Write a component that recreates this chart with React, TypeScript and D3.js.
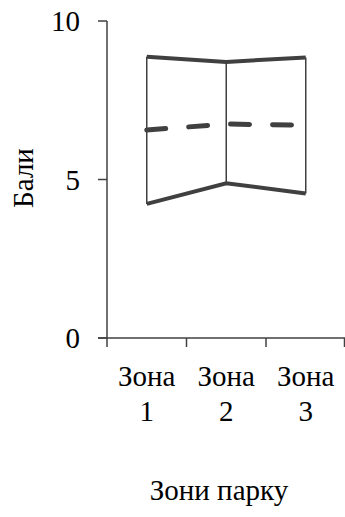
import React from "react";
import * as d3 from "d3";

const zones = ["1", "2", "3"];
const maxValues = [8.87, 8.71, 8.85];
const minValues = [4.23, 4.88, 4.56];
const meanValues = [6.56, 6.75, 6.71];
const yTicks = [0, 5, 10];

const width = 345;
const height = 517;
const color = "#404040";
const font =
  '"Liberation Serif", "Times New Roman", Times, Tinos, "Noto Serif", "DejaVu Serif", "Nimbus Roman", FreeSerif, serif';

const x = d3.scaleBand<string>().domain(zones).range([107, 345.5]).padding(0);
const y = d3.scaleLinear().domain([0, 10]).range([338, 21]);

const cx = (z: string) => (x(z) as number) + x.bandwidth() / 2;

const line = d3
  .line<number>()
  .x((_, i) => cx(zones[i]))
  .y((d) => y(d));

const txt = { fontFamily: font, fontSize: 29, fill: "#000" };

const App = () => {
  const [x0, x1] = x.range();
  return (
    <svg
      width={width}
      height={height}
      style={{ position: "absolute", left: 0, top: 0, fontFamily: font }}
    >
      {/* y axis */}
      <line x1={x0} x2={x0} y1={y(10)} y2={y(0)} stroke={color} strokeWidth={1.5} />
      {yTicks.map((t) => (
        <g key={t}>
          <line x1={x0 - 9} x2={x0} y1={y(t)} y2={y(t)} stroke={color} strokeWidth={1.5} />
          <text x={80} y={y(t)} dy="0.35em" textAnchor="end" style={txt}>
            {t}
          </text>
        </g>
      ))}
      {/* x axis */}
      <line x1={x0 - 9} x2={x1} y1={y(0)} y2={y(0)} stroke={color} strokeWidth={1.5} />
      {[...zones.map((z) => x(z) as number), x1 - 1].map((px, i) => (
        <line key={i} x1={px} x2={px} y1={y(0)} y2={y(0) + 9} stroke={color} strokeWidth={1.5} />
      ))}
      {zones.map((z) => (
        <text key={z} x={cx(z)} y={386} textAnchor="middle" style={txt}>
          <tspan x={cx(z)}>Зона</tspan>
          <tspan x={cx(z)} dy={35}>
            {z}
          </tspan>
        </text>
      ))}
      {/* range bars */}
      {zones.map((z, i) => (
        <line
          key={z}
          x1={cx(z)}
          x2={cx(z)}
          y1={y(maxValues[i])}
          y2={y(minValues[i])}
          stroke={color}
          strokeWidth={1.5}
        />
      ))}
      <path d={line(maxValues) || ""} fill="none" stroke={color} strokeWidth={4} />
      <path d={line(minValues) || ""} fill="none" stroke={color} strokeWidth={4} />
      <path
        d={line(meanValues) || ""}
        fill="none"
        stroke={color}
        strokeWidth={5}
        strokeDasharray="19 23"
        strokeLinecap="round"
      />
      {/* axis titles */}
      <text transform={`translate(33,178) rotate(-90)`} textAnchor="middle" style={txt}>
        Бали
      </text>
      <text x={219} y={500} textAnchor="middle" style={txt}>
        Зони парку
      </text>
    </svg>
  );
};

export default App;
